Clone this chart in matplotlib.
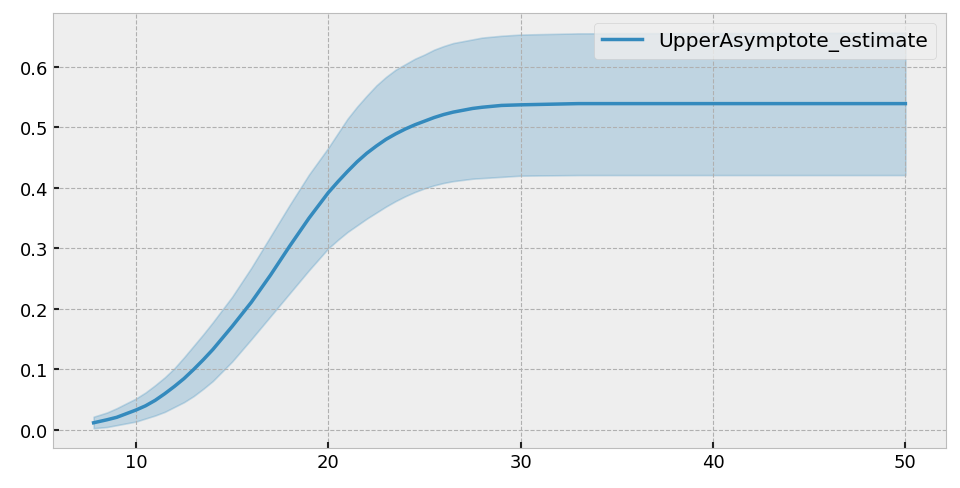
import matplotlib
matplotlib.use('Agg')
import matplotlib.pyplot as plt

# values
x = [7.8, 8.5, 9, 9.5, 10, 10.5, 11, 11.5, 12, 12.5, 13, 13.5, 14, 14.5,
     15, 16, 17, 18, 19, 20, 20.5, 21, 21.5, 22, 22.5, 23, 23.5, 24, 24.5,
     25, 25.5, 26, 26.5, 27, 27.5, 28, 29, 30, 33, 50]
estimate = [0.012, 0.017, 0.021, 0.027, 0.033, 0.040, 0.049, 0.060, 0.072,
            0.085, 0.100, 0.116, 0.133, 0.152, 0.171, 0.211, 0.256, 0.304,
            0.350, 0.392, 0.410, 0.427, 0.443, 0.457, 0.469, 0.480, 0.489,
            0.497, 0.504, 0.510, 0.516, 0.521, 0.525, 0.528, 0.531, 0.533,
            0.536, 0.537, 0.539, 0.539]
upper = [0.022, 0.029, 0.036, 0.044, 0.052, 0.062, 0.074, 0.087, 0.102,
         0.120, 0.139, 0.158, 0.178, 0.199, 0.220, 0.268, 0.320, 0.372,
         0.422, 0.466, 0.490, 0.514, 0.534, 0.552, 0.569, 0.583, 0.595,
         0.604, 0.613, 0.620, 0.628, 0.634, 0.639, 0.642, 0.645, 0.648,
         0.651, 0.653, 0.655, 0.656]
lower = [0.003, 0.005, 0.008, 0.011, 0.014, 0.019, 0.024, 0.030, 0.038,
         0.046, 0.056, 0.068, 0.081, 0.097, 0.113, 0.150, 0.188, 0.226,
         0.264, 0.300, 0.314, 0.327, 0.338, 0.349, 0.359, 0.369, 0.378,
         0.386, 0.393, 0.399, 0.404, 0.408, 0.411, 0.413, 0.415, 0.416,
         0.418, 0.420, 0.421, 0.421]

plt.style.use('bmh')
plt.rcParams['font.size'] = 13

fig = plt.figure(figsize=(9.6, 4.89), dpi=100)
ax = fig.add_axes([0.0552, 0.0818, 0.9302, 0.8896])
ax.plot(x, estimate, linewidth=2.5, label='UpperAsymptote_estimate')
ax.fill_between(x, lower, upper, color='C0', alpha=0.25, linewidth=1.2)
ax.grid(True, linestyle='--', linewidth=0.8, color='#b0b0b0')
ax.tick_params(labelsize=13, direction='in', length=4.5, width=1.5,
               color='#222222')
ax.legend(loc='upper right', fontsize=14.5)

fig.savefig('out.png', dpi=100)
